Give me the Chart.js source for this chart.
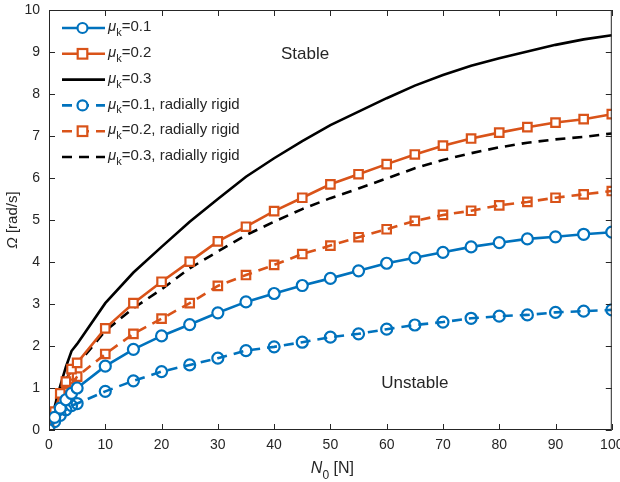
<!DOCTYPE html>
<html>
<head>
<meta charset="utf-8">
<script src="https://cdn.jsdelivr.net/npm/chart.js@4/dist/chart.umd.min.js"></script>
<style>
  body { margin: 0; background: #fff; }
  #wrap { width: 620px; height: 482px; }
</style>
</head>
<body>
<div id="wrap"><canvas id="myChart" width="620" height="482"></canvas></div>
<script>
// normal load N0 [N]
var loads = [0, 1, 2, 3, 4, 5, 10, 15, 20, 25, 30, 35, 40, 45, 50, 55, 60, 65, 70, 75, 80, 85, 90, 95, 100];

// critical speed Omega [rad/s]
var mu01 = [0, 0.3, 0.52, 0.72, 0.87, 1.0, 1.52, 1.92, 2.24, 2.51, 2.79, 3.05, 3.25, 3.44, 3.61, 3.79, 3.97, 4.10, 4.23, 4.36, 4.46, 4.55, 4.60, 4.66, 4.71];
var mu02 = [0, 0.44, 0.87, 1.15, 1.45, 1.6, 2.42, 3.02, 3.53, 4.01, 4.49, 4.84, 5.21, 5.53, 5.85, 6.09, 6.33, 6.56, 6.77, 6.94, 7.08, 7.21, 7.32, 7.40, 7.52];
var mu03 = [0, 0.55, 1.05, 1.5, 1.88, 2.05, 3.02, 3.75, 4.36, 4.96, 5.5, 6.03, 6.47, 6.88, 7.26, 7.58, 7.9, 8.2, 8.45, 8.67, 8.85, 9.01, 9.17, 9.30, 9.40];
var mu01rigid = [0, 0.2, 0.35, 0.48, 0.58, 0.63, 0.92, 1.17, 1.39, 1.55, 1.71, 1.89, 1.98, 2.09, 2.21, 2.29, 2.40, 2.50, 2.57, 2.66, 2.71, 2.74, 2.80, 2.83, 2.86];
var mu02rigid = [0, 0.4, 0.65, 0.9, 1.1, 1.27, 1.81, 2.29, 2.65, 3.02, 3.43, 3.69, 3.93, 4.19, 4.39, 4.59, 4.78, 4.98, 5.12, 5.22, 5.35, 5.43, 5.53, 5.61, 5.69];
var mu03rigid = [0, 0.45, 0.85, 1.2, 1.42, 1.55, 2.36, 2.9, 3.35, 3.85, 4.25, 4.64, 4.96, 5.26, 5.52, 5.75, 5.99, 6.23, 6.43, 6.59, 6.73, 6.84, 6.92, 6.98, 7.06];

var muLabels = ['0.1', '0.2', '0.3', '0.1, radially rigid', '0.2, radially rigid', '0.3, radially rigid'];
var xTicks = [0, 10, 20, 30, 40, 50, 60, 70, 80, 90, 100];
var yTicks = [0, 1, 2, 3, 4, 5, 6, 7, 8, 9, 10];

var BLUE = '#0072BD', ORANGE = '#D95319', BLACK = '#000000';
var AXIS = '#262626';
var FONT = '"Liberation Sans", Arial, sans-serif';

function pts(ys){
  return loads.map(function(x, i){ return {x: x, y: ys[i]}; });
}

function series(label, ys, color, marker, dashed){
  return {
    label: label,
    data: pts(ys),
    borderColor: color,
    borderWidth: 2.6,
    borderDash: dashed ? [10, 7] : [],
    pointStyle: marker || 'circle',
    pointRadius: marker ? (marker === 'rect' ? 6 : 5.5) : 0,
    pointBorderWidth: 2.2,
    pointBorderColor: color,
    pointBackgroundColor: dashed ? 'rgba(255,255,255,0)' : '#ffffff',
    tension: 0,
    fill: false
  };
}

var datasets = [
  series(muLabels[0], mu01, BLUE, 'circle', false),
  series(muLabels[1], mu02, ORANGE, 'rect', false),
  series(muLabels[2], mu03, BLACK, null, false),
  series(muLabels[3], mu01rigid, BLUE, 'circle', true),
  series(muLabels[4], mu02rigid, ORANGE, 'rect', true),
  series(muLabels[5], mu03rigid, BLACK, null, true)
];

// box, inward ticks, legend, axis titles, region labels
var decor = {
  id: 'decor',
  afterDraw: function(chart){
    var ctx = chart.ctx;
    var a = chart.chartArea;
    var xs = chart.scales.x, ys = chart.scales.y;
    ctx.save();
    ctx.strokeStyle = AXIS;
    ctx.lineWidth = 1;
    ctx.strokeRect(a.left + 0.5, a.top + 0.5, a.right - a.left - 1, a.bottom - a.top - 1);
    ctx.beginPath();
    xTicks.forEach(function(v){
      var px = Math.round(xs.getPixelForValue(v)) + 0.5;
      ctx.moveTo(px, a.bottom); ctx.lineTo(px, a.bottom - 6);
      ctx.moveTo(px, a.top); ctx.lineTo(px, a.top + 6);
    });
    yTicks.forEach(function(v){
      var py = Math.round(ys.getPixelForValue(v)) + 0.5;
      ctx.moveTo(a.left, py); ctx.lineTo(a.left + 6, py);
      ctx.moveTo(a.right, py); ctx.lineTo(a.right - 6, py);
    });
    ctx.stroke();

    // legend
    var lx0 = 62, lx1 = 105, ly = 28, step = 25.8;
    chart.data.datasets.forEach(function(ds, i){
      var y = ly + i * step;
      ctx.save();
      ctx.strokeStyle = ds.borderColor;
      ctx.lineWidth = ds.borderWidth;
      ctx.setLineDash(ds.borderDash.length ? [10, 7] : []);
      ctx.beginPath();
      ctx.moveTo(lx0, y); ctx.lineTo(lx1, y);
      ctx.stroke();
      ctx.setLineDash([]);
      if (ds.pointRadius > 0) {
        ctx.lineWidth = ds.pointBorderWidth;
        ctx.fillStyle = '#ffffff';
        var cx = (lx0 + lx1) / 2 - 1;
        if (ds.pointStyle === 'rect') {
          var s = ds.pointRadius * 0.8;
          ctx.fillRect(cx - s, y - s, 2 * s, 2 * s);
          ctx.strokeRect(cx - s, y - s, 2 * s, 2 * s);
        } else {
          ctx.beginPath();
          ctx.arc(cx, y, ds.pointRadius - 0.5, 0, Math.PI * 2);
          ctx.fill(); ctx.stroke();
        }
      }
      ctx.restore();
      ctx.fillStyle = AXIS;
      ctx.textBaseline = 'middle';
      ctx.textAlign = 'left';
      var tx = 108;
      ctx.font = 'italic 15px ' + FONT;
      ctx.fillText('\u03bc', tx, y - 1);
      tx += ctx.measureText('\u03bc').width;
      ctx.font = '11px ' + FONT;
      ctx.fillText('k', tx, y + 5);
      tx += ctx.measureText('k').width;
      ctx.font = '15px ' + FONT;
      ctx.fillText('=' + ds.label, tx, y - 1);
    });

    // region labels
    ctx.font = '17px ' + FONT;
    ctx.textAlign = 'center';
    ctx.textBaseline = 'middle';
    ctx.fillStyle = AXIS;
    ctx.fillText('Stable', xs.getPixelForValue(45.5), ys.getPixelForValue(8.95));
    ctx.fillText('Unstable', xs.getPixelForValue(65), ys.getPixelForValue(1.1));

    // x title
    var cxT = (a.left + a.right) / 2 + 2;
    ctx.textAlign = 'left';
    ctx.textBaseline = 'alphabetic';
    ctx.font = 'italic 16px ' + FONT;
    var w1 = ctx.measureText('N').width;
    ctx.font = '12px ' + FONT;
    var w2 = ctx.measureText('0').width;
    ctx.font = '16px ' + FONT;
    var w3 = ctx.measureText(' [N]').width;
    var sx = cxT - (w1 + w2 + w3) / 2;
    ctx.font = 'italic 16px ' + FONT;
    ctx.fillText('N', sx, 473);
    ctx.font = '12px ' + FONT;
    ctx.fillText('0', sx + w1, 479);
    ctx.font = '16px ' + FONT;
    ctx.fillText(' [N]', sx + w1 + w2, 473);

    // y title
    ctx.save();
    ctx.translate(13, (a.top + a.bottom) / 2);
    ctx.rotate(-Math.PI / 2);
    ctx.font = 'italic 15px ' + FONT;
    var o1 = ctx.measureText('\u03a9').width;
    ctx.font = '15px ' + FONT;
    var o2 = ctx.measureText(' [rad/s]').width;
    var oy = -(o1 + o2) / 2;
    ctx.textBaseline = 'middle';
    ctx.font = 'italic 15px ' + FONT;
    ctx.fillText('\u03a9', oy, 0);
    ctx.font = '15px ' + FONT;
    ctx.fillText(' [rad/s]', oy + o1, 0);
    ctx.restore();

    ctx.restore();
  }
};

var ctx = document.getElementById('myChart').getContext('2d');
var myChart = new Chart(ctx, {
  type: 'line',
  data: { datasets: datasets },
  options: {
    responsive: false,
    animation: false,
    layout: { padding: { top: 10, right: 8, left: 0, bottom: 0 } },
    plugins: { legend: { display: false }, tooltip: { enabled: false } },
    scales: {
      x: {
        type: 'linear', min: 0, max: 100,
        afterFit: function(s){ s.height = 52; s.paddingLeft = 0; s.paddingRight = 0; },
        afterBuildTicks: function(s){ s.ticks = xTicks.map(function(v){ return {value: v}; }); },
        grid: { display: false, drawTicks: false },
        border: { display: false },
        ticks: { color: AXIS, padding: 7, font: { size: 14, family: FONT }, maxRotation: 0 }
      },
      y: {
        type: 'linear', min: 0, max: 10,
        afterFit: function(s){ s.width = 49; s.paddingTop = 0; s.paddingBottom = 0; },
        afterBuildTicks: function(s){ s.ticks = yTicks.map(function(v){ return {value: v}; }); },
        grid: { display: false, drawTicks: false },
        border: { display: false },
        ticks: { color: AXIS, padding: 9, font: { size: 14, family: FONT } }
      }
    }
  },
  plugins: [decor]
});
</script>
</body>
</html>
